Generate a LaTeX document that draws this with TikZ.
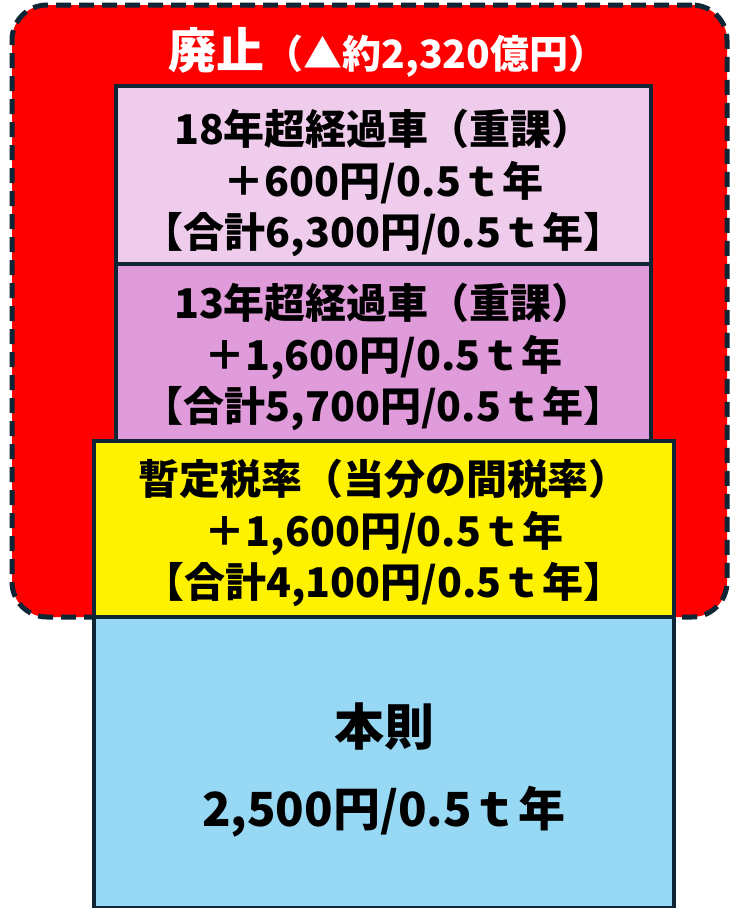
\documentclass[tikz,border=0pt]{standalone}
\usepackage{fontspec}
\setmainfont{Noto Sans CJK JP}
\usepackage{tikz}
\definecolor{navy}{RGB}{13,37,53}
\definecolor{pinkA}{RGB}{240,204,236}
\definecolor{pinkB}{RGB}{224,156,218}
\definecolor{skyblue}{RGB}{151,217,245}
\tikzset{kubun/.style={draw=navy, line width=4pt, rectangle, inner sep=0pt},
  moji/.style={font=\bfseries\fontsize{41}{51.5}\selectfont, align=center, inner sep=0pt}}

\begin{document}
\begin{tikzpicture}[x=1pt,y=-1pt]
\useasboundingbox (0,0) rectangle (729,908);
\node[rectangle, fill=red, draw=navy, line width=5pt, dash pattern=on 15pt off 8pt, rounded corners=35pt, minimum width=715pt, minimum height=612pt, inner sep=0pt] (haishi) at (369.5,311) {};
\node[font=\bfseries, text=white, inner sep=0pt] (midashi) at (388,52) {\fontsize{48}{48}\selectfont 廃止\fontsize{39}{39}\selectfont（▲約2,320億円）};
\node[kubun, fill=pinkA, minimum width=535pt, minimum height=178pt] (juka18) at (383.5,175) {};
\node[kubun, fill=pinkB, minimum width=535pt, minimum height=177pt] (juka13) at (383.5,352.5) {};
\node[kubun, fill=yellow, minimum width=580pt, minimum height=176pt] (zantei) at (384,529) {};
\node[kubun, fill=skyblue, minimum width=580pt, minimum height=291pt] (honsoku) at (384,762.5) {};
% box texts
\node[moji] (juka18txt) at (383.5,183) {18年超経過車（重課）\\＋600円/0.5ｔ年\\【合計6,300円/0.5ｔ年】};
\node[moji] (juka13txt) at (383.5,357) {13年超経過車（重課）\\＋1,600円/0.5ｔ年\\【合計5,700円/0.5ｔ年】};
\node[moji] (zanteitxt) at (384,533) {暫定税率（当分の間税率）\\＋1,600円/0.5ｔ年\\【合計4,100円/0.5ｔ年】};
\node[moji, font=\bfseries\fontsize{50}{50}\selectfont] (honsokuA) at (384,727) {本則};
\node[moji, font=\bfseries\fontsize{47}{47}\selectfont] (honsokuB) at (384,812) {2,500円/0.5ｔ年};
\end{tikzpicture}
\end{document}
